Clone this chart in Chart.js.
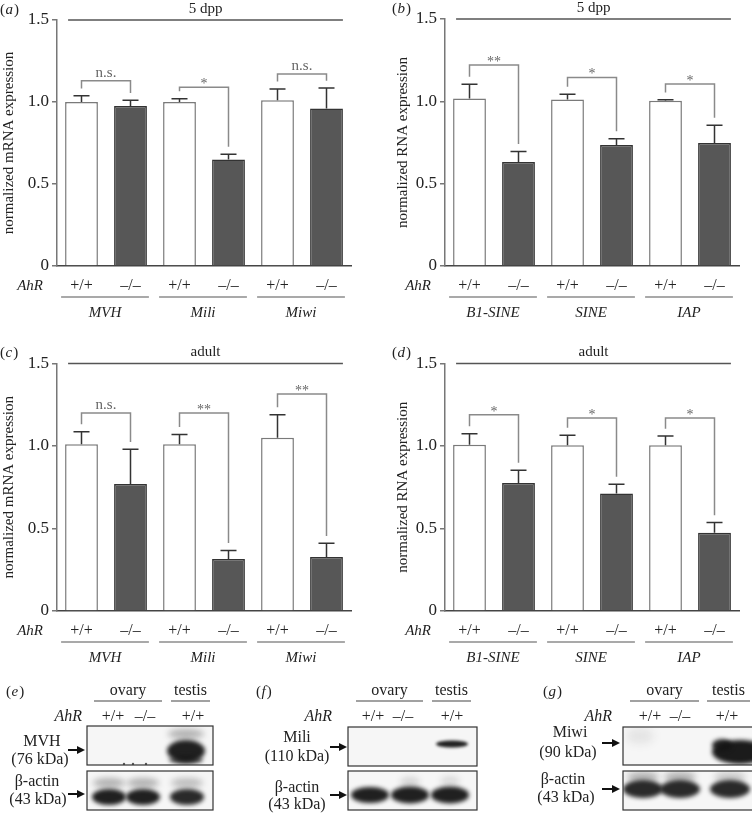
<!DOCTYPE html>
<html>
<head>
<meta charset="utf-8">
<script src="https://cdn.jsdelivr.net/npm/chart.js@4"></script>
<style>
  body { margin: 0; background: #fff; width: 752px; height: 813px; position: relative; overflow: hidden; }
  canvas { position: absolute; }
</style>
</head>
<body>
<canvas id="pa" width="376" height="330" style="left:0;top:0"></canvas>
<canvas id="pb" width="376" height="330" style="left:376px;top:0"></canvas>
<canvas id="pc" width="376" height="331" style="left:0;top:344px"></canvas>
<canvas id="pd" width="376" height="331" style="left:376px;top:344px"></canvas>
<canvas id="blots" width="752" height="143" style="left:0;top:670px"></canvas>
<script>
// categories and tick labels
var genotypes = ['+/+', '–/–', '+/+', '–/–', '+/+', '–/–'];
var genes = ['MVH', 'Mili', 'Miwi'];
var elements = ['B1-SINE', 'SINE', 'IAP'];
var yTicks = [0, 0.5, 1.0, 1.5];

// (a) 5 dpp, mRNA
var meanA = [1.00, 0.975, 1.00, 0.65, 1.01, 0.96];
var errA = [0.038, 0.035, 0.02, 0.032, 0.07, 0.125];
var sigA = ['n.s.', '*', 'n.s.'];
var sigTopA = [1.13, 1.09, 1.17];

// (b) 5 dpp, transposons
var meanB = [1.017, 0.631, 1.011, 0.735, 1.003, 0.747];
var errB = [0.087, 0.065, 0.032, 0.038, 0.006, 0.108];
var sigB = ['**', '*', '*'];
var sigTopB = [1.22, 1.145, 1.105];

// (c) adult, mRNA
var meanC = [1.01, 0.77, 1.01, 0.315, 1.05, 0.327];
var errC = [0.077, 0.21, 0.06, 0.052, 0.14, 0.083];
var sigC = ['n.s.', '**', '**'];
var sigTopC = [1.2, 1.2, 1.315];

// (d) adult, transposons
var meanD = [1.008, 0.776, 1.004, 0.712, 1.004, 0.474];
var errD = [0.067, 0.077, 0.061, 0.056, 0.056, 0.062];
var sigD = ['*', '*', '*'];
var sigTopD = [1.19, 1.17, 1.17];

var SERIF = "'Liberation Serif', 'Times New Roman', serif";
function font(size, italic) {
    return (italic ? 'italic ' : '') + size + 'px ' + SERIF;
}

// panel letter like "(a)" with an italic letter
function panelLabel(ctx, letter, x, y) {
    ctx.textAlign = 'left';
    ctx.textBaseline = 'middle';
    ctx.fillStyle = '#222';
    ctx.font = font(15);
    ctx.fillText('(', x, y);
    var w1 = ctx.measureText('(').width;
    ctx.font = font(15, true);
    ctx.fillText(letter, x + w1 + 0.5, y);
    var w2 = ctx.measureText(letter).width;
    ctx.font = font(15);
    ctx.fillText(')', x + w1 + w2 + 1.5, y);
}

// error bars, brackets, headers and group labels
var extras = {
    id: 'extras',
    afterDraw: function(chart) {
        var o = chart.options.plugins.extras;
        var ctx = chart.ctx, area = chart.chartArea, y = chart.scales.y;
        var bars = chart.getDatasetMeta(0).data;
        var vals = chart.data.datasets[0].data;
        var bw = bars[0].width;
        ctx.save();

        // error bars (upper only)
        ctx.strokeStyle = '#333';
        ctx.lineWidth = 1.5;
        bars.forEach(function(b, i) {
            var top = y.getPixelForValue(vals[i] + o.err[i]);
            ctx.beginPath();
            ctx.moveTo(b.x, b.y);
            ctx.lineTo(b.x, top);
            ctx.moveTo(b.x - 8, top);
            ctx.lineTo(b.x + 8, top);
            ctx.stroke();
        });

        // significance brackets
        for (var k = 0; k < 3; k++) {
            var i = 2 * k, j = 2 * k + 1;
            var xl = bars[i].x, xr = bars[j].x;
            var yt = y.getPixelForValue(o.sigTop[k]);
            var yl = y.getPixelForValue(vals[i] + o.err[i] + 0.045);
            var yr = y.getPixelForValue(vals[j] + o.err[j] + 0.045);
            ctx.strokeStyle = '#8a8a8a';
            ctx.lineWidth = 1.5;
            ctx.beginPath();
            ctx.moveTo(xl, yl);
            ctx.lineTo(xl, yt);
            ctx.lineTo(xr, yt);
            ctx.lineTo(xr, yr);
            ctx.stroke();
            ctx.fillStyle = '#666';
            ctx.textAlign = 'center';
            ctx.textBaseline = 'alphabetic';
            if (o.sig[k] === 'n.s.') {
                ctx.font = font(15);
                ctx.fillText(o.sig[k], (xl + xr) / 2, yt - 4);
            } else {
                ctx.font = font(14);
                ctx.fillText(o.sig[k], (xl + xr) / 2, yt + 1);
            }
        }

        // header line and title
        var x0 = bars[0].x - bw / 2 + 3, x1 = bars[5].x + bw / 2;
        ctx.strokeStyle = '#555';
        ctx.lineWidth = 1.5;
        ctx.beginPath();
        ctx.moveTo(x0, area.top);
        ctx.lineTo(x1, area.top);
        ctx.stroke();
        ctx.fillStyle = '#222';
        ctx.font = font(15);
        ctx.textAlign = 'center';
        ctx.textBaseline = 'middle';
        ctx.fillText(o.title, (x0 + x1) / 2, area.top - 11);

        panelLabel(ctx, o.letter, o.labelX, area.top - 10);

        // AhR row label
        ctx.fillStyle = '#222';
        ctx.font = font(15, true);
        ctx.textAlign = 'right';
        ctx.textBaseline = 'middle';
        ctx.fillText('AhR', area.left - 14, area.bottom + 20);

        // group underlines and names
        for (var g = 0; g < 3; g++) {
            var a = bars[2 * g].x - bw / 2 - 4, b = bars[2 * g + 1].x + bw / 2 + 2;
            ctx.strokeStyle = '#555';
            ctx.lineWidth = 1.2;
            ctx.beginPath();
            ctx.moveTo(a, area.bottom + 31);
            ctx.lineTo(b, area.bottom + 31);
            ctx.stroke();
            ctx.fillStyle = '#222';
            ctx.font = font(15, true);
            ctx.textAlign = 'center';
            ctx.fillText(o.groups[g], (a + b) / 2, area.bottom + 47);
        }
        ctx.restore();
    }
};

function makePanel(id, p) {
    new Chart(document.getElementById(id), {
        type: 'bar',
        data: {
            labels: genotypes,
            datasets: [{
                data: p.values,
                backgroundColor: p.values.map(function(_, i) { return i % 2 ? '#575757' : '#ffffff'; }),
                borderColor: p.values.map(function(_, i) { return i % 2 ? '#333333' : '#7a7a7a'; }),
                borderWidth: 1.5,
                barPercentage: 0.67,
                categoryPercentage: 1.0
            }]
        },
        options: {
            responsive: false,
            animation: false,
            devicePixelRatio: 1,
            layout: { padding: { left: p.padLeft, right: p.padRight, top: p.padTop, bottom: 0 } },
            plugins: {
                legend: { display: false },
                tooltip: { enabled: false },
                extras: {
                    err: p.err, sig: p.sig, sigTop: p.sigTop, groups: p.groups,
                    title: p.title, letter: p.letter, labelX: p.labelX
                }
            },
            scales: {
                x: {
                    grid: { display: false, drawTicks: false },
                    border: { color: '#444', width: 1.5 },
                    ticks: { color: '#222', font: { family: SERIF, size: 16 }, padding: 10 },
                    afterFit: function(s) { s.height = p.xHeight; }
                },
                y: {
                    min: 0,
                    max: 1.5,
                    afterBuildTicks: function(s) {
                        s.ticks = yTicks.map(function(v) { return { value: v }; });
                    },
                    ticks: {
                        color: '#222',
                        font: { family: SERIF, size: 17 },
                        padding: 3,
                        callback: function(v) { return v === 0 ? '0' : v.toFixed(1); }
                    },
                    grid: { drawOnChartArea: false, drawTicks: true, tickLength: 5, color: '#777', lineWidth: 1.5 },
                    border: { color: '#777', width: 1.5 },
                    title: {
                        display: true,
                        text: p.yTitle,
                        color: '#222',
                        font: { family: SERIF, size: 15 },
                        padding: 0
                    },
                    afterFit: function(s) { s.width = p.yWidth; }
                }
            }
        },
        plugins: [extras]
    });
}

makePanel('pa', {
    values: meanA, err: errA, sig: sigA, sigTop: sigTopA, groups: genes,
    title: '5 dpp', yTitle: 'normalized mRNA expression', letter: 'a', labelX: 0,
    padLeft: 0, yWidth: 57, padRight: 25, padTop: 20, xHeight: 64
});
makePanel('pb', {
    values: meanB, err: errB, sig: sigB, sigTop: sigTopB, groups: elements,
    title: '5 dpp', yTitle: 'normalized RNA expression', letter: 'b', labelX: 16,
    padLeft: 18, yWidth: 51, padRight: 13, padTop: 19, xHeight: 64
});
makePanel('pc', {
    values: meanC, err: errC, sig: sigC, sigTop: sigTopC, groups: genes,
    title: 'adult', yTitle: 'normalized mRNA expression', letter: 'c', labelX: 0,
    padLeft: 0, yWidth: 57, padRight: 25, padTop: 19.5, xHeight: 64
});
makePanel('pd', {
    values: meanD, err: errD, sig: sigD, sigTop: sigTopD, groups: elements,
    title: 'adult', yTitle: 'normalized RNA expression', letter: 'd', labelX: 16,
    padLeft: 18, yWidth: 51, padRight: 13, padTop: 19.5, xHeight: 64
});

// western blot panels (e)-(g)
function drawBlots() {
    var ctx = document.getElementById('blots').getContext('2d');
    ctx.translate(0, -670);

    function text(s, x, y, align, italic) {
        ctx.font = font(16, italic);
        ctx.fillStyle = '#222';
        ctx.textAlign = align || 'center';
        ctx.textBaseline = 'middle';
        ctx.fillText(s, x, y);
    }
    function line(xa, xb, y) {
        ctx.strokeStyle = '#444';
        ctx.lineWidth = 1.2;
        ctx.beginPath();
        ctx.moveTo(xa, y);
        ctx.lineTo(xb, y);
        ctx.stroke();
    }
    function arrow(xa, xb, y) {
        ctx.strokeStyle = '#111';
        ctx.fillStyle = '#111';
        ctx.lineWidth = 2;
        ctx.beginPath();
        ctx.moveTo(xa, y);
        ctx.lineTo(xb - 6, y);
        ctx.stroke();
        ctx.beginPath();
        ctx.moveTo(xb, y);
        ctx.lineTo(xb - 8, y - 4);
        ctx.lineTo(xb - 8, y + 4);
        ctx.closePath();
        ctx.fill();
    }
    function box(x, y, w, h, bands) {
        ctx.save();
        ctx.fillStyle = '#f6f6f6';
        ctx.fillRect(x, y, w, h);
        ctx.beginPath();
        ctx.rect(x, y, w, h);
        ctx.clip();
        bands.forEach(function(b) {
            ctx.filter = 'blur(' + b[5] + 'px)';
            ctx.fillStyle = 'rgba(20,20,20,' + b[4] + ')';
            ctx.beginPath();
            ctx.ellipse(b[0], b[1], b[2], b[3], 0, 0, Math.PI * 2);
            ctx.fill();
        });
        ctx.restore();
        ctx.strokeStyle = '#333';
        ctx.lineWidth = 1.2;
        ctx.strokeRect(x, y, w, h);
    }
    function header(letter, lx, ovary, testis, ahrX, lanes) {
        panelLabel(ctx, letter, lx, 692);
        text('ovary', (ovary[0] + ovary[1]) / 2, 691);
        text('testis', (testis[0] + testis[1]) / 2, 691);
        line(ovary[0], ovary[1], 701);
        line(testis[0], testis[1], 701);
        text('AhR', ahrX, 717, 'right', true);
        text('+/+', lanes[0], 717);
        text('–/–', lanes[1], 717);
        text('+/+', lanes[2], 717);
    }

    // (e) MVH
    header('e', 6, [94, 162], [171, 210], 82, [113, 145, 193]);
    box(87, 726, 126, 39, [
        [186, 734, 18, 5, 0.3, 3],
        [186, 751, 19, 11, 0.95, 2],
        [186, 760, 17, 4, 0.7, 2],
        [124, 764, 1.2, 1.2, 0.7, 0],
        [133, 764, 1.2, 1.2, 0.7, 0],
        [146, 764, 1.2, 1.2, 0.7, 0]
    ]);
    box(87, 771, 126, 39, [
        [109, 783, 16, 5, 0.3, 3], [143, 783, 16, 5, 0.3, 3], [187, 783, 16, 5, 0.25, 3],
        [109, 797, 17, 8, 0.95, 2], [143, 797, 17, 8, 0.95, 2], [187, 797, 17, 8, 0.9, 2]
    ]);
    text('MVH', 42, 742);
    text('(76 kDa)', 40, 760);
    arrow(68, 85, 750);
    text('β-actin', 37, 782);
    text('(43 kDa)', 38, 800);
    arrow(68, 85, 794);

    // (f) Mili
    header('f', 256, [356, 423], [432, 471], 332, [373, 403, 452]);
    box(348, 727, 129, 39, [
        [452, 744, 16, 3.5, 0.95, 1.5]
    ]);
    box(348, 771, 129, 39, [
        [410, 782, 10, 5, 0.15, 3], [450, 781, 10, 5, 0.12, 3],
        [370, 795, 19, 8, 0.95, 2], [410, 795, 19, 8.5, 0.95, 2], [450, 795, 19, 8.5, 0.95, 2]
    ]);
    text('Mili', 297, 738);
    text('(110 kDa)', 297, 757);
    arrow(330, 347, 747);
    text('β-actin', 297, 788);
    text('(43 kDa)', 297, 805);
    arrow(330, 347, 795);

    // (g) Miwi
    header('g', 543, [630, 699], [707, 750], 612, [650, 680, 727]);
    box(623, 727, 130, 38, [
        [640, 736, 14, 8, 0.08, 4],
        [740, 752, 28, 12, 0.97, 2],
        [722, 745, 10, 6, 0.9, 2]
    ]);
    box(623, 771, 130, 39, [
        [643, 777, 16, 5, 0.3, 3], [680, 777, 16, 5, 0.3, 3], [730, 777, 16, 5, 0.2, 3],
        [643, 789, 20, 9, 0.9, 2], [680, 789, 20, 9, 0.9, 2], [730, 789, 20, 9, 0.9, 2]
    ]);
    text('Miwi', 570, 733);
    text('(90 kDa)', 568, 753);
    arrow(602, 620, 743);
    text('β-actin', 563, 780);
    text('(43 kDa)', 566, 798);
    arrow(602, 620, 789);
}
drawBlots();
</script>
</body>
</html>
